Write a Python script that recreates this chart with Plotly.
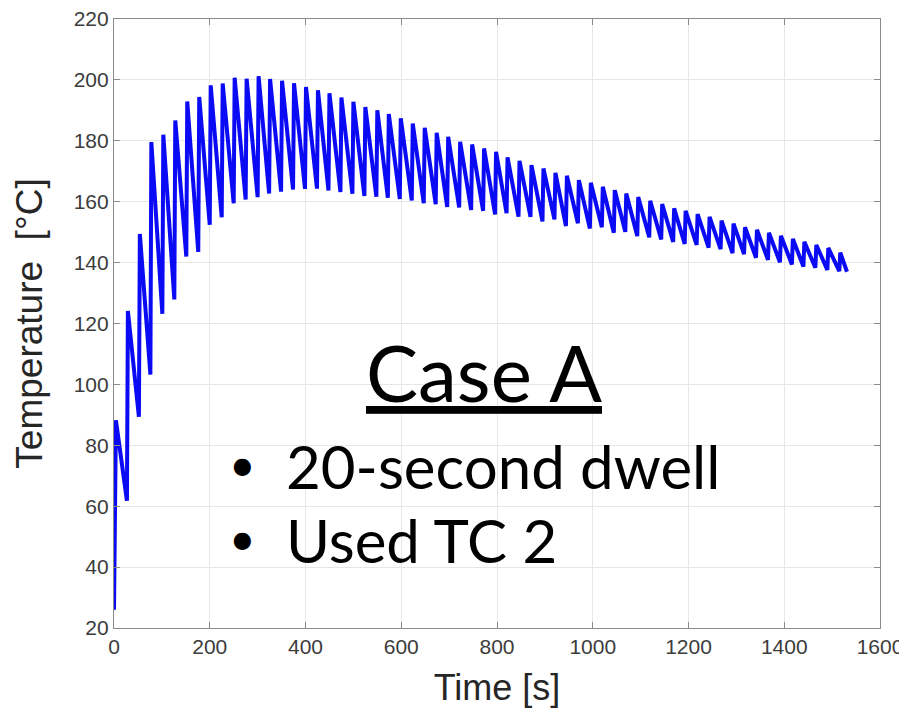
import plotly.graph_objects as go

LINE_BLUE = "#0A0AF5"
AXIS_GREY = "#8a8a8a"
TEXT_GREY = "#3c3c3c"

# first reading at the start, then one peak and one trough per 20 s dwell cycle
start_time = 0
start_temp = 26
end_time = 1531
end_temp = 137
rise_s = 2  # heating ramp before each peak

peak_time = [4, 29, 54, 78, 103, 128, 153, 178, 202, 227, 252, 277, 302, 326, 351,
             376, 401, 426, 450, 475, 500, 525, 550, 574, 599, 624, 649, 674, 698,
             723, 748, 773, 798, 822, 847, 872, 897, 922, 946, 971, 996, 1021, 1046,
             1070, 1095, 1120, 1145, 1170, 1194, 1219, 1244, 1269, 1294, 1318, 1343,
             1368, 1393, 1418, 1442, 1467, 1492, 1517]

peak_temp = [88.2, 124.1, 149.4, 179.6, 182.0, 186.7, 192.9, 194.4, 198.2, 198.8,
             200.7, 200.4, 201.2, 200.3, 199.7, 198.9, 197.7, 196.6, 195.6, 194.2,
             192.8, 191.1, 190.0, 188.8, 187.4, 185.7, 184.3, 182.6, 181.3, 179.7,
             178.8, 177.5, 176.4, 174.6, 173.4, 172.0, 170.9, 169.5, 168.5, 167.1,
             166.2, 164.9, 163.8, 162.7, 161.5, 160.3, 159.2, 157.8, 157.0, 155.9,
             155.0, 153.8, 152.8, 151.6, 150.8, 149.8, 148.8, 147.8, 146.8, 145.8,
             144.8, 143.3]

trough_temp = [61.8, 89.4, 103.2, 123.2, 127.9, 142.0, 143.5, 152.4, 154.9, 159.5,
               160.7, 161.5, 162.7, 163.3, 164.0, 164.2, 164.3, 163.7, 163.2, 162.6,
               161.9, 161.6, 161.3, 160.9, 160.4, 159.5, 159.2, 158.3, 158.1, 157.3,
               157.0, 155.8, 156.2, 155.1, 155.0, 153.5, 154.2, 152.0, 152.9, 151.2,
               151.6, 149.8, 150.1, 148.7, 148.3, 147.6, 146.8, 146.1, 145.8, 144.9,
               144.4, 143.1, 142.8, 141.6, 140.9, 140.1, 139.4, 138.7, 138.3, 137.6,
               137.2]

time = [start_time]
temp = [start_temp]
for k in range(len(peak_time)):
    time.append(peak_time[k])
    temp.append(peak_temp[k])
    if k < len(trough_temp):
        time.append(peak_time[k + 1] - rise_s)
        temp.append(trough_temp[k])
time.append(end_time)
temp.append(end_temp)

fig = go.Figure()
fig.add_trace(go.Scatter(x=time, y=temp, mode="lines",
                         line=dict(color=LINE_BLUE, width=4)))

axis_style = dict(
    showline=True, linecolor=AXIS_GREY, linewidth=1.2, mirror="ticks",
    ticks="inside", ticklen=6, tickcolor=AXIS_GREY,
    showgrid=True, gridcolor="#e6e6e6", gridwidth=1, zeroline=False,
    automargin=False, ticklabeloverflow="allow",
    tickfont=dict(family="Liberation Sans", size=21, color=TEXT_GREY),
)
fig.update_xaxes(range=[0, 1600], dtick=200, **axis_style,
                 title=dict(text="Time [s]", standoff=22,
                            font=dict(family="Liberation Sans", size=36, color="#262626")))
fig.update_yaxes(range=[20, 220], dtick=20, **axis_style,
                 title=dict(text="Temperature  [°C]", standoff=19,
                            font=dict(family="Liberation Sans", size=37, color="#262626")))

# slide text placed over the plot
fig.add_annotation(x=0.483, y=0.42, xref="paper", yref="paper", showarrow=False,
                   xanchor="center", yanchor="middle",
                   text="<u>Case A</u>", font=dict(family="Lato", size=78, color="black"))
for yy, label in [(0.266, "20-second dwell"), (0.145, "Used TC 2")]:
    fig.add_annotation(x=0.168, y=yy + 0.004, xref="paper", yref="paper", showarrow=False,
                       xanchor="center", yanchor="middle",
                       text="•", font=dict(family="Lato", size=46, color="black"))
    fig.add_annotation(x=0.222, y=yy, xref="paper", yref="paper", showarrow=False,
                       xanchor="left", yanchor="middle", text=label,
                       font=dict(family="Lato", size=60, color="black"))

# the page body adds an 8 px offset, so the margins shift the axes back into place
fig.update_layout(
    width=899, height=700,
    margin=dict(l=106, r=27, t=11, b=80),
    plot_bgcolor="white", paper_bgcolor="white",
    showlegend=False,
)
fig.write_html("out.html")
